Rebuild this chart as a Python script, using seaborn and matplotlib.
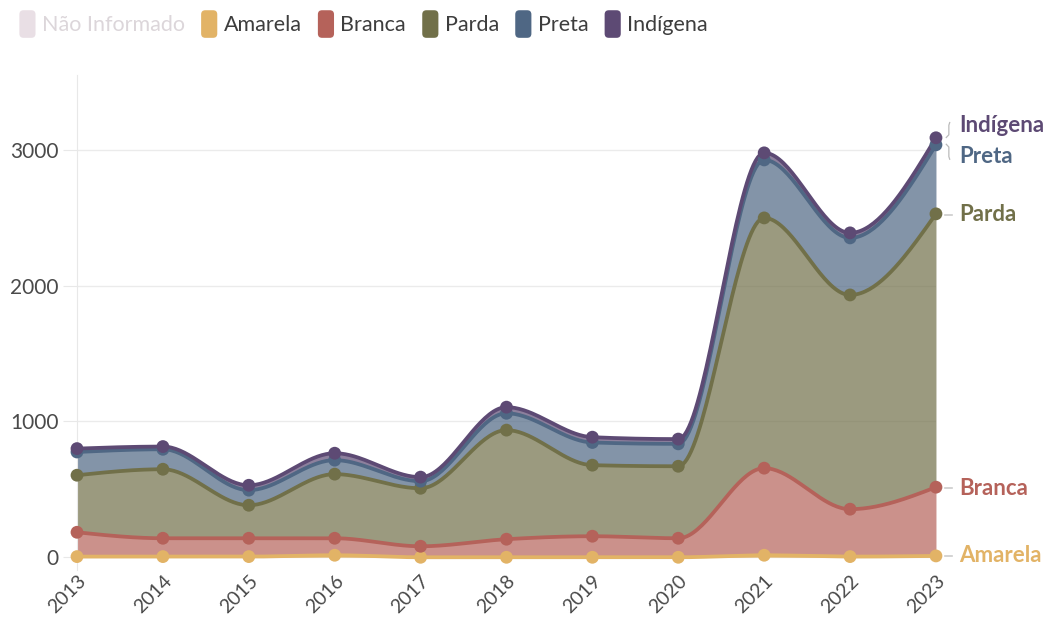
import numpy as np
import pandas as pd
import matplotlib
matplotlib.use("Agg")
import matplotlib.pyplot as plt
import seaborn as sns
from matplotlib.patches import Patch, FancyBboxPatch
from matplotlib.legend_handler import HandlerPatch

# data
years = [2013, 2014, 2015, 2016, 2017, 2018, 2019, 2020, 2021, 2022, 2023]
amarela = [5, 5, 5, 15, 0, 0, 0, 0, 15, 5, 10]
branca = [179, 135, 135, 125, 81, 133, 155, 140, 641, 349, 506]
parda = [420, 508, 243, 472, 427, 803, 523, 530, 1842, 1577, 2012]
preta = [171, 147, 111, 103, 52, 124, 167, 165, 427, 420, 508]
indigena = [25, 20, 36, 51, 30, 45, 39, 35, 52, 37, 52]

series = ["Amarela", "Branca", "Parda", "Preta", "Indígena"]
colors = {
    "Não Informado": "#e9dfe5",
    "Amarela": "#e2b366",
    "Branca": "#b5625a",
    "Parda": "#717049",
    "Preta": "#4f6784",
    "Indígena": "#5d4a74",
}

df = pd.DataFrame({"Ano": years, "Amarela": amarela, "Branca": branca,
                   "Parda": parda, "Preta": preta, "Indígena": indigena})
cum = df[series].cumsum(axis=1)


def monotone(x, y, n=40):
    # monotone cubic curve (like d3.curveMonotoneX), only for drawing
    x = np.asarray(x, float)
    y = np.asarray(y, float)
    h = np.diff(x)
    s = np.diff(y) / h
    m = np.zeros_like(y)
    for i in range(1, len(y) - 1):
        p = (s[i - 1] * h[i] + s[i] * h[i - 1]) / (h[i - 1] + h[i])
        m[i] = (np.sign(s[i - 1]) + np.sign(s[i])) * min(abs(s[i - 1]), abs(s[i]), 0.5 * abs(p))
    m[0] = (3 * s[0] - m[1]) / 2
    m[-1] = (3 * s[-1] - m[-2]) / 2
    xs, ys = [], []
    for i in range(len(x) - 1):
        t = np.linspace(0, 1, n, endpoint=False)
        h00 = 2 * t**3 - 3 * t**2 + 1
        h10 = t**3 - 2 * t**2 + t
        h01 = -2 * t**3 + 3 * t**2
        h11 = t**3 - t**2
        xs.append(x[i] + t * h[i])
        ys.append(h00 * y[i] + h10 * h[i] * m[i] + h01 * y[i + 1] + h11 * h[i] * m[i + 1])
    xs.append([x[-1]])
    ys.append([y[-1]])
    return np.concatenate(xs), np.concatenate(ys)


plt.rcParams["font.family"] = ["Lato", "DejaVu Sans"]
fig = plt.figure(figsize=(10.52, 6.22), dpi=100)
ax = fig.add_axes([0.0732, 0.0844, 0.8165, 0.795])

prev = None
for name in series:
    xs, top = monotone(years, cum[name])
    if prev is None:
        bottom = np.zeros_like(top)
    else:
        bottom = prev
    ax.fill_between(xs, bottom, top, color=colors[name], alpha=0.7, lw=0, zorder=2)
    prev = top

for name in series:
    xs, top = monotone(years, cum[name])
    sns.lineplot(x=xs, y=top, ax=ax, color=colors[name], lw=2.7, zorder=3)
    sns.scatterplot(x=years, y=cum[name], ax=ax, color=colors[name], s=85,
                    edgecolor="none", zorder=4, clip_on=False)

ax.set_xlim(2013, 2023)
ax.set_ylim(-90, 3550)
ax.set_yticks([0, 1000, 2000, 3000])
ax.set_xticks(years)
ax.set_xticklabels([str(y) for y in years], rotation=45, ha="right", rotation_mode="anchor")
ax.grid(axis="y", color="#ebebeb", lw=1)
ax.set_axisbelow(True)
for sp in ["top", "right", "bottom"]:
    ax.spines[sp].set_visible(False)
ax.spines["left"].set_color("#e8e8e8")
ax.tick_params(axis="y", length=10, color="#e8e8e8", labelsize=15, labelcolor="#4a4a4a", pad=3)
ax.tick_params(axis="x", length=0, labelsize=14, labelcolor="#4a4a4a", pad=2)
ax.set_xlabel("")
ax.set_ylabel("")

# right side labels
labels = [("Indígena", 3176), ("Preta", 2950), ("Parda", 2520), ("Branca", 508), ("Amarela", 10)]
for name, ly in labels:
    ax.text(2023.27, ly, name, color=colors[name], fontsize=16, fontweight="bold",
            va="center", ha="left", clip_on=False)
for ly in [2520, 508, 10]:
    ax.plot([2023.1, 2023.19], [ly, ly], color="#cccccc", lw=1.2, clip_on=False)
ax.plot([2023.16, 2023.15, 2023.15, 2023.12], [3200, 3180, 3110, 3090], color="#bbbbbb", lw=0.9, clip_on=False)
ax.plot([2023.12, 2023.15, 2023.15, 2023.16], [3040, 3020, 2950, 2930], color="#bbbbbb", lw=0.9, clip_on=False)


class RoundHandler(HandlerPatch):
    def create_artists(self, legend, orig_handle, xdescent, ydescent, width, height, fontsize, trans):
        p = FancyBboxPatch((-xdescent, -ydescent - 3), width, height + 6,
                           boxstyle="round,pad=0,rounding_size=3",
                           facecolor=orig_handle.get_facecolor(), edgecolor="none", transform=trans)
        return [p]


leg_names = ["Não Informado"] + series
handles = [Patch(facecolor=colors[n]) for n in leg_names]
leg = fig.legend(handles, leg_names, loc="upper left", bbox_to_anchor=(0.0, 1.008), ncol=6,
                 frameon=False, fontsize=15.5, handlelength=0.75, handleheight=1.0,
                 handletextpad=0.3, columnspacing=0.75,
                 handler_map={Patch: RoundHandler()})
for t, n in zip(leg.get_texts(), leg_names):
    t.set_color("#dcd6da" if n == "Não Informado" else "#3d3d3d")

plt.savefig("out.png", dpi=100)
